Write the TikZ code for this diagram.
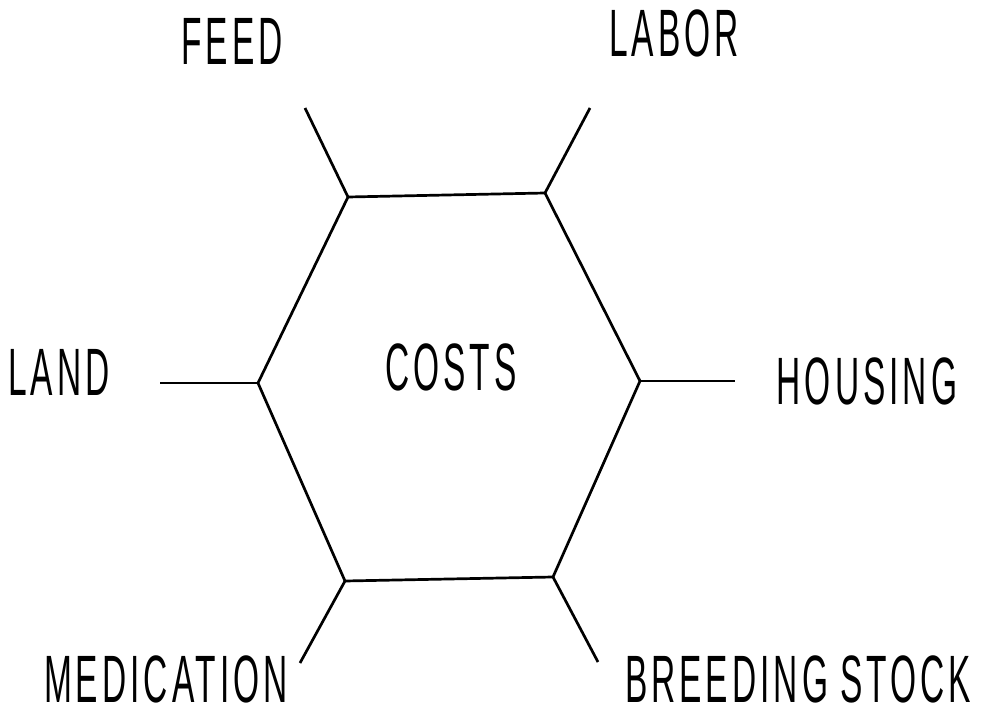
\documentclass[tikz,border=0pt]{standalone}
\usepackage{fontspec}
\setmainfont{Liberation Sans}[FakeStretch=0.5,LetterSpace=6]
\begin{document}
\begin{tikzpicture}[x=1pt,y=-1pt,
  edge/.style={line width=2.7pt},
  lbl/.style={inner sep=0pt,anchor=base,font=\fontsize{67}{67}\selectfont}]
\useasboundingbox (0,0) rectangle (989,717);
\coordinate (tl) at (348,197);
\coordinate (tr) at (545,193);
\coordinate (r) at (640,381);
\coordinate (br) at (553,577);
\coordinate (bl) at (345,581);
\coordinate (l) at (258,383);
\coordinate (etl) at (305,108);
\coordinate (etr) at (590,108);
\coordinate (er) at (735,381);
\coordinate (ebr) at (598,662);
\coordinate (ebl) at (300,663);
\coordinate (el) at (160,383);
\draw[edge] (tl) -- (tr) -- (r) -- (br) -- (bl) -- (l) -- cycle;
\draw[edge] (tl) -- (etl);
\draw[edge] (tr) -- (etr);
\draw[edge] (r) -- (er);
\draw[edge] (br) -- (ebr);
\draw[edge] (bl) -- (ebl);
\draw[edge] (l) -- (el);
\node[lbl] (feed) at (232,65) {FEED};
\node[lbl] (labor) at (674,57) {LABOR};
\node[lbl] (land) at (59,395) {LAND};
\node[lbl] (costs) at (451,390) {COSTS};
\node[lbl] (housing) at (867,404) {HOUSING};
\node[lbl] (med) at (166,702) {MEDICATION};
\node[lbl] (breed) at (798,702) {BREEDING\hspace{12pt}STOCK};
\end{tikzpicture}
\end{document}
